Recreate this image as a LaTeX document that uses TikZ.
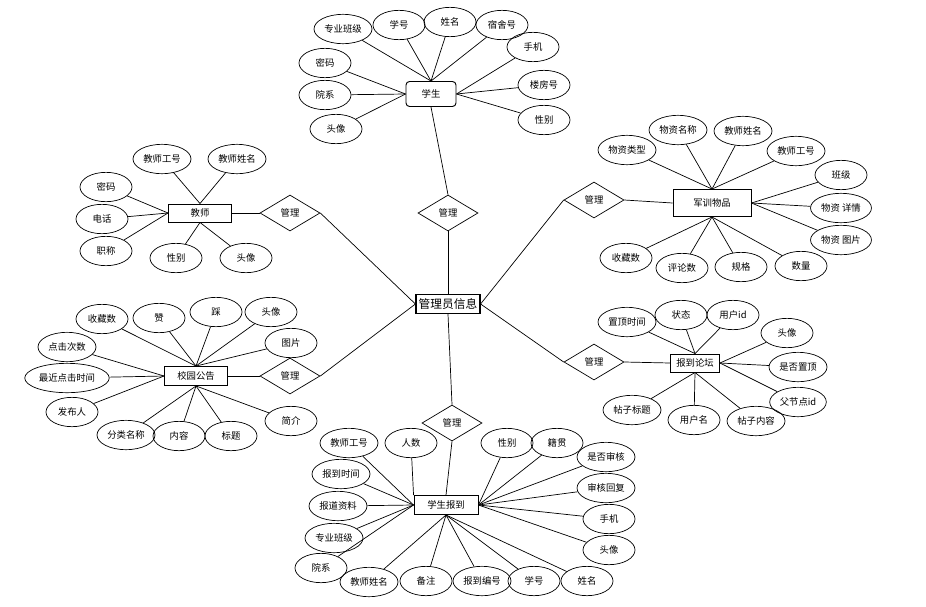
\documentclass[tikz,border=0pt]{standalone}
\usepackage{fontspec}
\setmainfont{Noto Sans CJK SC}
\usetikzlibrary{shapes.geometric}
\begin{document}
\begin{tikzpicture}[x=0.03cm,y=-0.03cm,
  every node/.style={font=\fontsize{8}{9.5}\selectfont},
  attr/.style={ellipse, draw, line width=0.6pt, inner xsep=1.5pt, inner ysep=0pt, minimum width=1.56cm, minimum height=0.88cm},
  ent/.style={rectangle, draw, line width=0.8pt, inner sep=0pt},
  rel/.style={diamond, draw, line width=0.6pt, inner sep=0pt, minimum width=1.8cm, minimum height=1.08cm},
  conn/.style={line width=0.6pt}]
\useasboundingbox (0,0) rectangle (926,606);

% central
\node[ent, line width=1pt, minimum width=1.92cm, minimum height=0.57cm, font=\fontsize{10}{12}\selectfont] (adm) at (448,304) {管理员信息};

% relationships
\node[rel] (dT) at (448,213) {管理};
\node[rel] (dUL) at (290,213) {管理};
\node[rel] (dUR) at (594,200) {管理};
\node[rel] (dLL) at (290,376) {管理};
\node[rel] (dLR) at (594,362) {管理};
\node[rel] (dB) at (452,423) {管理};

% entities
\node[ent, rounded corners=3pt, minimum width=1.5cm, minimum height=0.75cm] (stu) at (431,94) {学生};
\node[ent, minimum width=2.34cm, minimum height=0.81cm] (jx) at (712,203) {军训物品};
\node[ent, minimum width=1.89cm, minimum height=0.54cm] (js) at (200,213) {教师};
\node[ent, minimum width=1.89cm, minimum height=0.57cm] (xy) at (196,376) {校园公告};
\node[ent, minimum width=1.47cm, minimum height=0.54cm] (lt) at (695,363) {报到论坛};
\node[ent, minimum width=1.92cm, minimum height=0.57cm] (bd) at (446,505) {学生报到};

% relationship links
\draw[conn] (adm.north) -- (dT.south);
\draw[conn] (dT.north) -- (stu.south);
\draw[conn] (dUL.east) -- (adm.west);
\draw[conn] (dUL.west) -- (js.east);
\draw[conn] (dLL.east) -- (adm.west);
\draw[conn] (dLL.west) -- (xy.east);
\draw[conn] (dUR.west) -- (adm.east);
\draw[conn] (dUR.east) -- (jx.west);
\draw[conn] (dLR.west) -- (adm.east);
\draw[conn] (dLR.east) -- (lt.west);
\draw[conn] (adm.south) -- (dB.north);
\draw[conn] (dB.south) -- (bd.north);

% 学生 attributes
\node[attr] (s1) at (343,29) {专业班级};
\node[attr] (s2) at (399,25) {学号};
\node[attr] (s3) at (450,22) {姓名};
\node[attr] (s4) at (502,25) {宿舍号};
\node[attr] (s5) at (533,47) {手机};
\node[attr] (s6) at (544,85) {楼房号};
\node[attr] (s7) at (544,120) {性别};
\node[attr] (s8) at (325,63) {密码};
\node[attr] (s9) at (325,95) {院系};
\node[attr] (s10) at (336,129) {头像};
\foreach \a/\b in {s1/north,s2/north,s3/north,s4/north,s5/east,s6/east,s7/east,s8/west,s9/west,s10/west}
  \draw[conn] (\a) -- (stu.\b);

% 军训物品 attributes
\node[attr] (j1) at (627,150) {物资类型};
\node[attr] (j2) at (678,130) {物资名称};
\node[attr] (j3) at (743,131) {教师姓名};
\node[attr] (j4) at (796,151) {教师工号};
\node[attr] (j5) at (841,175) {班级};
\node[attr] (j6) at (841,208) {物资 详情};
\node[attr] (j7) at (841,240) {物资 图片};
\node[attr] (j8) at (626,258) {收藏数};
\node[attr] (j9) at (682,268) {评论数};
\node[attr] (j10) at (741,267) {规格};
\node[attr] (j11) at (801,266) {数量};
\foreach \a/\b in {j1/north,j2/north,j3/north,j4/north,j5/east,j6/east,j7/east,j8/south,j9/south,j10/south,j11/south}
  \draw[conn] (\a) -- (jx.\b);

% 教师 attributes
\node[attr] (t1) at (162,159) {教师工号};
\node[attr] (t2) at (237,159) {教师姓名};
\node[attr] (t3) at (106,187) {密码};
\node[attr] (t4) at (102,219) {电话};
\node[attr] (t5) at (106,251) {职称};
\node[attr] (t6) at (176,258) {性别};
\node[attr] (t7) at (246,258) {头像};
\foreach \a/\b in {t1/north,t2/north,t3/west,t4/west,t5/west,t6/south,t7/south}
  \draw[conn] (\a) -- (js.\b);

% 校园公告 attributes
\node[attr] (x1) at (102,319) {收藏数};
\node[attr] (x2) at (159,318) {赞};
\node[attr] (x3) at (216,312) {踩};
\node[attr] (x4) at (271,312) {头像};
\node[attr] (x5) at (291,343) {图片};
\node[attr] (x6) at (67,347) {点击次数};
\node[attr] (x7) at (67,378) {最近点击时间};
\node[attr] (x8) at (72,412) {发布人};
\node[attr] (x9) at (126,435) {分类名称};
\node[attr] (x10) at (179,436) {内容};
\node[attr] (x11) at (231,436) {标题};
\node[attr] (x12) at (291,421) {简介};
\foreach \a/\b in {x1/north,x2/north,x3/north,x4/north,x5/north,x6/west,x7/west,x8/west,x9/south,x10/south,x11/south,x12/south}
  \draw[conn] (\a) -- (xy.\b);

% 报到论坛 attributes
\node[attr] (l1) at (627,322) {置顶时间};
\node[attr] (l2) at (681,315) {状态};
\node[attr] (l3) at (733,315) {用户id};
\node[attr] (l4) at (787,333) {头像};
\node[attr] (l5) at (798,367) {是否置顶};
\node[attr] (l6) at (798,402) {父节点id};
\node[attr] (l7) at (632,410) {帖子标题};
\node[attr] (l8) at (694,420) {用户名};
\node[attr] (l9) at (756,421) {帖子内容};
\foreach \a/\b in {l1/north,l2/north,l3/north,l4/east,l5/east,l6/east,l7/south,l8/south,l9/south}
  \draw[conn] (\a) -- (lt.\b);

% 学生报到 attributes
\node[attr] (b1) at (349,443) {教师工号};
\node[attr] (b2) at (411,443) {人数};
\node[attr] (b3) at (341,474) {报到时间};
\node[attr] (b4) at (338,506) {报道资料};
\node[attr] (b5) at (334,538) {专业班级};
\node[attr] (b6) at (321,568) {院系};
\node[attr] (b7) at (369,582) {教师姓名};
\node[attr] (b8) at (426,581) {备注};
\node[attr] (b9) at (482,581) {报到编号};
\node[attr] (b10) at (534,581) {学号};
\node[attr] (b11) at (587,581) {姓名};
\node[attr] (b12) at (507,443) {性别};
\node[attr] (b13) at (557,443) {籍贯};
\node[attr] (b14) at (606,457) {是否审核};
\node[attr] (b15) at (606,488) {审核回复};
\node[attr] (b16) at (609,519) {手机};
\node[attr] (b17) at (609,550) {头像};
\foreach \a/\b in {b1/west,b2/north west,b3/west,b4/west,b5/west,b6/west,b7/south,b8/south,b9/south,b10/south,b11/south,b12/east,b13/east,b14/east,b15/east,b16/east,b17/east}
  \draw[conn] (\a) -- (bd.\b);
\end{tikzpicture}
\end{document}
